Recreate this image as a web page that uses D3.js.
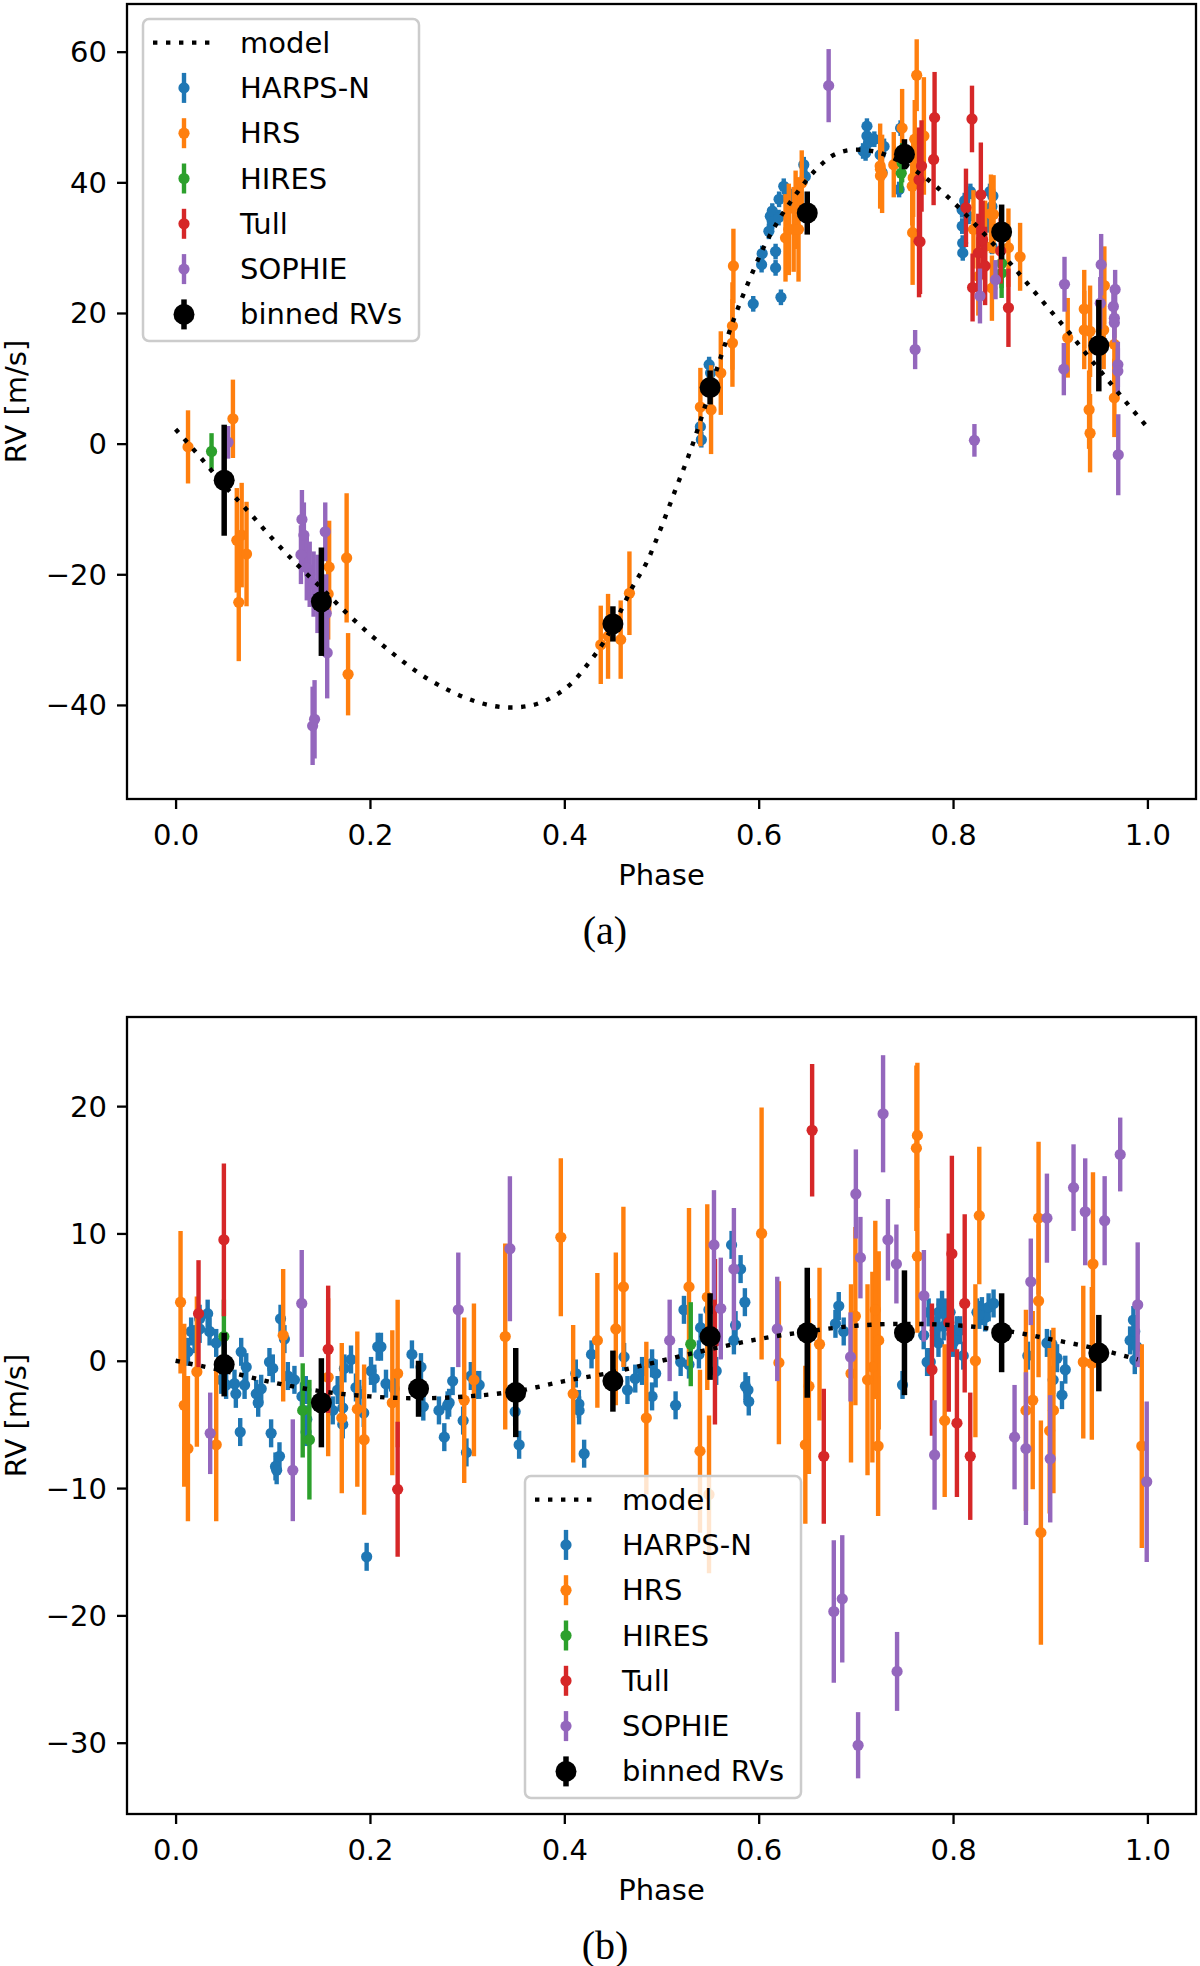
<!DOCTYPE html>
<html>
<head>
<meta charset="utf-8">
<script src="https://cdn.jsdelivr.net/npm/d3@7/dist/d3.min.js"></script>
<style>
  body { margin: 0; background: #fff; }
  svg { display: block; font-family: "DejaVu Sans", sans-serif; }
</style>
</head>
<body>
<svg id="chart" width="1200" height="1966"></svg>
<script>
// ---- data: [phase, RV, error] ----
// panel (a)
const modelA = [[0.0,2.2],[0.025,-2.0],[0.05,-6.4],[0.075,-10.4],[0.1,-14.6],[0.125,-18.5],[0.15,-22.1],[0.175,-25.8],[0.2,-29.2],[0.225,-32.3],[0.25,-35.1],[0.275,-37.3],[0.3,-39.0],[0.325,-40.1],[0.345,-40.4],[0.365,-40.1],[0.39,-38.6],[0.41,-36.3],[0.425,-33.6],[0.44,-30.5],[0.455,-26.5],[0.47,-22.0],[0.485,-18.1],[0.5,-12.7],[0.515,-6.8],[0.53,-1.0],[0.545,5.8],[0.56,12.8],[0.575,19.3],[0.59,24.9],[0.605,30.0],[0.62,34.1],[0.64,38.5],[0.66,42.1],[0.68,44.4],[0.7,45.0],[0.72,44.7],[0.74,43.6],[0.76,41.9],[0.78,39.7],[0.8,37.0],[0.82,34.0],[0.84,30.8],[0.86,27.4],[0.88,23.9],[0.9,20.4],[0.92,16.9],[0.94,13.2],[0.96,9.6],[0.98,6.0],[1.0,2.5]];

const harpsA = [[0.540,2.6,1.2],[0.541,0.6,1.2],[0.549,12.1,1.2],[0.5505,10.8,1.2],[0.546,8.5,1.2],[0.5944,21.4,1.2],[0.603,27.4,1.2],[0.6036,29.1,1.2],[0.6105,32.5,1.2],[0.612,34.8,1.2],[0.614,35.6,1.2],[0.614,34.0,1.2],[0.6174,29.4,1.2],[0.6174,26.9,1.2],[0.6205,34.6,1.2],[0.621,37.4,1.2],[0.6229,22.4,1.2],[0.6258,39.4,1.2],[0.630,38.4,1.2],[0.6345,36.9,1.2],[0.6464,42.7,1.2],[0.648,40.9,1.2],[0.7074,44.8,1.2],[0.710,44.5,1.2],[0.7114,48.6,1.2],[0.7114,47.1,1.2],[0.713,46.1,1.2],[0.719,46.6,1.2],[0.725,44.2,1.2],[0.727,41.5,1.2],[0.729,45.5,1.2],[0.7445,38.9,1.2],[0.746,48.3,1.2],[0.744,43.6,1.2],[0.8093,35.8,1.2],[0.8094,33.3,1.2],[0.8099,30.7,1.2],[0.810,29.2,1.2],[0.816,34.8,1.2],[0.8178,38.6,1.2],[0.838,38.6,1.2],[0.840,36.3,1.2],[0.841,37.9,1.2],[0.840,30.2,1.2],[0.812,37.2,1.2],[0.835,33.5,1.2]];

const hrsA = [[0.0128,-0.5,5.6],[0.059,3.8,6],[0.063,-14.8,8],[0.065,-24.3,9],[0.068,-14,8],[0.073,-16.9,8],[0.157,-23,7],[0.158,-18.9,7.1],[0.176,-17.5,9.9],[0.1775,-35.3,6.3],[0.4375,-30.8,6],[0.445,-29.5,6.5],[0.458,-30,6],[0.467,-22.9,6.4],[0.540,5.6,6],[0.551,5.2,6.8],[0.561,10.8,6.4],[0.573,18,6.7],[0.573,15.4,6.7],[0.574,27.2,5.7],[0.6276,31.5,6.7],[0.631,32.8,7],[0.636,32.8,6.5],[0.641,32.8,8],[0.6443,39.9,5],[0.638,35.8,6],[0.7253,42,5],[0.7253,41,5],[0.725,42.5,6.5],[0.727,41.3,6],[0.739,42.7,5],[0.7476,48.3,6],[0.7584,32.3,8],[0.758,39.4,6],[0.7626,56.4,5.5],[0.7606,46.6,6],[0.759,40.7,6],[0.770,47.1,9],[0.821,32.8,6],[0.826,25.6,6],[0.833,30.2,7],[0.8417,35.1,6],[0.840,23.8,5],[0.839,35.2,6],[0.857,30,6],[0.869,28.6,5.2],[0.918,16.2,6.1],[0.935,20.6,6],[0.935,17.4,6],[0.941,17.2,7],[0.940,5.2,6],[0.941,1.6,6],[0.9557,24.2,6],[0.955,17.4,6],[0.966,15.2,6],[0.966,7,6]];

const hiresA = [[0.037,-1.2,2.8],[0.7467,41.4,3],[0.7476,43,3],[0.850,26.1,3.8],[0.850,27.6,3.8]];

const tullA = [[0.765,31,8.6],[0.765,40.4,8],[0.780,43.5,7],[0.781,49.9,7],[0.7676,42.5,7],[0.766,30.9,8],[0.8195,49.7,5.1],[0.8133,36.1,6],[0.8286,38.1,8],[0.8201,23.9,5.2],[0.8304,31.2,6],[0.826,29.2,6],[0.833,27.2,6],[0.857,20.8,6],[0.849,29.5,5]];

const sophieA = [[0.054,0.2,2.5],[0.130,-11.6,4.5],[0.132,-14,5],[0.129,-17,4.5],[0.135,-19,5],[0.138,-20,5],[0.142,-21.5,5],[0.146,-23,6],[0.154,-13.5,4.5],[0.155,-26,6],[0.156,-32,7],[0.141,-43.2,6],[0.143,-42.2,6],[0.672,54.8,5.6],[0.761,14.4,3],[0.822,0.5,2.5],[0.8277,22.6,4.2],[0.8437,25.1,3],[0.9147,24.4,4.2],[0.914,11.4,4],[0.9524,27.4,4.7],[0.9515,21.5,4],[0.9668,23.6,3],[0.965,21,3],[0.966,19.2,3],[0.966,18.5,3],[0.9696,12.1,3.5],[0.9696,11.1,3.5],[0.97,-1.7,6.2]];

const binnedA = [[0.05,-5.6,8.5],[0.15,-24.2,8.3],[0.45,-27.6,2.7],[0.55,8.6,2.6],[0.65,35.3,3.3],[0.75,44.3,2.3],[0.85,32.4,4.2],[0.95,15,7]];

// panel (b)
const modelB = [[0.0,0.0],[0.05,-0.8],[0.1,-1.7],[0.15,-2.4],[0.2,-2.8],[0.25,-2.95],[0.3,-2.8],[0.35,-2.4],[0.4,-1.6],[0.45,-0.9],[0.5,0.0],[0.55,0.9],[0.6,1.7],[0.65,2.3],[0.7,2.75],[0.75,2.9],[0.8,2.8],[0.85,2.4],[0.9,1.7],[0.95,0.9],[0.99,0.1]];

const harpsB = [[0.0127,0.7],[0.016,2.3],[0.0195,1.7],[0.0247,2.5],[0.0247,3.3],[0.033,3.7],[0.035,2.3],[0.0418,1.4],[0.047,-1.5],[0.052,-1.9],[0.0606,-1.8],[0.062,-2.6],[0.0675,0.7],[0.0727,-0.5],[0.071,-1.9],[0.083,-2.6],[0.0881,-2.2],[0.0966,-0.1],[0.1,-0.6],[0.108,3.3],[0.112,1.7],[0.1155,-1.2],[0.1223,-1.5],[0.130,-2.8],[0.134,-2.3],[0.0665,-5.6],[0.085,-3.3],[0.0983,-5.7],[0.1069,-7.5],[0.1028,-8.3],[0.104,-8.6],[0.1343,-5.6],[0.135,-4.6],[0.1617,-3.9],[0.172,-5.0],[0.1936,-4.1],[0.2549,-3.6],[0.271,-3.9],[0.2799,-3.5],[0.2765,-6.0],[0.2959,-4.7],[0.2993,-7.2],[0.1966,-15.4],[0.1668,-2.3],[0.172,-3.7],[0.1737,-0.6],[0.1805,0.1],[0.1856,-2.1],[0.189,-2.6],[0.2011,-0.8],[0.2045,-1.4],[0.208,1.1],[0.2113,1.1],[0.2165,-1.8],[0.225,-2.2],[0.2432,0.5],[0.2525,-0.5],[0.2851,-1.6],[0.3038,-1.2],[0.309,-1.9],[0.2815,-3.3],[0.3124,-1.9],[0.4118,-1.0],[0.415,-3.4],[0.428,0.5],[0.4615,0.3],[0.465,-2.3],[0.473,-1.4],[0.480,-0.8],[0.4903,-0.2],[0.4903,-2.8],[0.4940,-1.0],[0.5145,-3.5],[0.5197,-0.1],[0.5231,4.0],[0.5283,-0.3],[0.5385,0.5],[0.5402,2.6],[0.5488,4.0],[0.5563,-0.8],[0.5721,9.1],[0.5814,7.2],[0.5858,4.6],[0.5762,2.8],[0.5745,1.6],[0.5864,-2.0],[0.589,-2.3],[0.6824,4.3],[0.679,2.9],[0.6875,2.3],[0.3494,-4.0],[0.3535,-6.6],[0.4152,-3.9],[0.4204,-7.3],[0.5898,-3.2],[0.748,-1.9],[0.7698,2.0],[0.7749,3.8],[0.7766,-0.1],[0.7817,2.4],[0.785,3.8],[0.7887,4.4],[0.792,3.8],[0.797,3.8],[0.7988,2.1],[0.802,1.7],[0.8038,2.4],[0.8072,2.4],[0.8105,0.4],[0.80,1.4],[0.7904,2.7],[0.785,1.4],[0.7733,-0.1],[0.8246,3.8],[0.8297,3.9],[0.8366,4.2],[0.8417,4.5],[0.833,3.4],[0.827,3.6],[0.877,0.4],[0.8966,1.4],[0.9018,1.3],[0.907,0.2],[0.9155,-0.7],[0.903,-1.5],[0.9121,-2.7],[0.9822,1.6],[0.9856,3.2],[0.987,2.3],[0.989,1.1],[0.987,0.05]].map(d => [d[0], d[1], 1.1]);

const hrsB = [[0.0051,4.6,5.6],[0.0089,-3.5,6.4],[0.0127,-6.9,5.7],[0.0219,-0.86,5.9],[0.0418,-6.6,6],[0.1107,2.0,5.2],[0.157,-1.3,6.2],[0.171,-4.5,5.9],[0.187,-3.8,6.1],[0.194,-6.2,5.9],[0.223,-3.3,5.7],[0.2285,-1,5.8],[0.297,-3.1,6.5],[0.307,-1.5,6],[0.3392,1.9,7.3],[0.3964,9.7,6.2],[0.4091,-2.6,5.4],[0.434,1.6,5.3],[0.453,2.5,6],[0.4608,5.8,6.3],[0.4844,-4.5,6],[0.5283,5.8,6.2],[0.5396,-7.1,6.4],[0.5471,5.0,7.3],[0.5489,-10.5,6.2],[0.603,10.0,9.9],[0.6208,-0.15,6.4],[0.6517,-2.0,6.9],[0.648,-6.6,6.2],[0.6626,1.3,6],[0.6995,3.5,7],[0.695,-1,7],[0.712,-1.5,7.5],[0.717,-0.5,7.5],[0.7229,-6.7,5.5],[0.7235,1.6,7],[0.72,4.0,7],[0.7623,16.7,6.5],[0.7633,17.7,5.7],[0.7633,8.2,6],[0.7914,-4.7,6],[0.827,11.4,5.4],[0.823,0,6],[0.875,-3.9,7.9],[0.882,-3.1,7],[0.888,11.2,6],[0.888,4.7,6],[0.8904,-13.5,8.8],[0.8994,-5.5,6.5],[0.9033,-3.9,6.5],[0.934,-0.1,6],[0.9428,-0.2,6],[0.944,7.6,7.2],[0.9942,-6.7,8]];

const hiresB = [[0.0497,1.9,2.9],[0.1308,-3.9,3.7],[0.1377,-6.2,4.7],[0.5301,1.3,3.3]];

const tullB = [[0.0236,3.7,4.2],[0.0497,9.5,6],[0.157,0.9,5],[0.2285,-10.1,5.3],[0.555,1.5,6.5],[0.655,18.1,5.2],[0.667,-7.5,5.3],[0.7783,-0.7,5.2],[0.7988,8.4,7.7],[0.7956,3,7],[0.804,-4.9,5.8],[0.8177,-7.5,5],[0.812,4.5,7]];

const sophieB = [[0.0356,-5.7,3.2],[0.1298,4.5,4.2],[0.1206,-8.6,4],[0.2909,4.0,4.5],[0.344,8.8,5.7],[0.5084,1.6,3.2],[0.554,9.1,4.3],[0.561,4.1,4],[0.5745,7.2,4.8],[0.6191,2.5,4.1],[0.6773,-19.7,5.6],[0.686,-18.7,5],[0.7023,-30.2,2.6],[0.7424,-24.4,3.1],[0.728,19.4,4.6],[0.7,13.1,3.5],[0.7047,8.1,3.2],[0.733,9.5,3.2],[0.7417,7.6,3.1],[0.6945,0.3,3.5],[0.770,5.1,3.6],[0.781,-7.4,4.3],[0.8633,-6.0,4.1],[0.875,-6.9,6],[0.880,6.2,3.4],[0.8966,11.2,3.5],[0.9,-7.7,5],[0.924,13.6,3.4],[0.936,11.7,4.2],[0.956,11,3.5],[0.972,16.2,2.9],[0.990,4.4,4.9],[0.9993,-9.5,6.3]];

const binnedB = [[0.05,-0.3,2.5],[0.15,-3.3,3.5],[0.25,-2.2,2.2],[0.35,-2.5,3.5],[0.45,-1.6,2.4],[0.55,1.9,3.4],[0.65,2.2,5.1],[0.75,2.2,4.9],[0.85,2.2,3.1],[0.95,0.6,3]];

const instruments = ["HARPS-N", "HRS", "HIRES", "Tull", "SOPHIE"];
const colors = ["#1f77b4", "#ff7f0e", "#2ca02c", "#d62728", "#9467bd"];
const xTicks = [0, 0.2, 0.4, 0.6, 0.8, 1.0];
const yTicksA = [-40, -20, 0, 20, 40, 60];
const yTicksB = [-30, -20, -10, 0, 10, 20];

const svg = d3.select("#chart");
const left = 127, right = 1196;

function drawPanel(p) {
  const x = d3.scaleLinear().domain([-0.05, 1.05]).range([left, right]);
  const y = d3.scaleLinear().domain(p.yDomain).range([p.bottom, p.top]);
  const g = svg.append("g");

  // instrument series: bars under markers
  p.series.forEach((data, i) => {
    const s = g.append("g");
    s.selectAll("line").data(data).enter().append("line")
      .attr("x1", d => x(d[0])).attr("x2", d => x(d[0]))
      .attr("y1", d => y(d[1] - d[2])).attr("y2", d => y(d[1] + d[2]))
      .attr("stroke", colors[i]).attr("stroke-width", 4.4);
    s.selectAll("circle").data(data).enter().append("circle")
      .attr("cx", d => x(d[0])).attr("cy", d => y(d[1])).attr("r", 5.6)
      .attr("fill", colors[i]);
  });

  // binned RVs
  const b = g.append("g");
  b.selectAll("line").data(p.binned).enter().append("line")
    .attr("x1", d => x(d[0])).attr("x2", d => x(d[0]))
    .attr("y1", d => y(d[1] - d[2])).attr("y2", d => y(d[1] + d[2]))
    .attr("stroke", "#000").attr("stroke-width", 5.5);
  b.selectAll("circle").data(p.binned).enter().append("circle")
    .attr("cx", d => x(d[0])).attr("cy", d => y(d[1])).attr("r", 10.5)
    .attr("fill", "#000");

  // model
  g.append("path").datum(p.model)
    .attr("d", d3.line().x(d => x(d[0])).y(d => y(d[1])).curve(d3.curveMonotoneX))
    .attr("fill", "none").attr("stroke", "#000").attr("stroke-width", 4.4)
    .attr("stroke-dasharray", "4.4 8.6");

  // frame
  g.append("rect").attr("x", left).attr("y", p.top)
    .attr("width", right - left).attr("height", p.bottom - p.top)
    .attr("fill", "none").attr("stroke", "#000").attr("stroke-width", 2.3);

  // axes
  const ax = g.append("g").attr("transform", `translate(0,${p.bottom})`)
    .call(d3.axisBottom(x).tickValues(xTicks).tickFormat(d3.format(".1f"))
      .tickSize(10).tickSizeOuter(0));
  ax.select(".domain").remove();
  ax.selectAll("line").attr("stroke-width", 2.3);
  ax.selectAll("text").attr("dy", null).attr("y", 36)
    .attr("dominant-baseline", "central").style("font-size", "29px")
    .style("font-family", "DejaVu Sans").attr("fill", "#000");

  const ay = g.append("g").attr("transform", `translate(${left},0)`)
    .call(d3.axisLeft(y).tickValues(p.yTicks).tickFormat(d3.format("d"))
      .tickSize(10).tickSizeOuter(0));
  ay.select(".domain").remove();
  ay.selectAll("line").attr("stroke-width", 2.3);
  ay.selectAll("text").attr("dy", null).attr("x", -20)
    .attr("dominant-baseline", "central").style("font-size", "29px")
    .style("font-family", "DejaVu Sans").attr("fill", "#000");

  g.append("text").attr("x", (left + right) / 2).attr("y", p.bottom + 76)
    .attr("text-anchor", "middle").attr("dominant-baseline", "central")
    .style("font-size", "29px").text("Phase");
  g.append("text")
    .attr("transform", `translate(16,${(p.top + p.bottom) / 2}) rotate(-90)`)
    .attr("text-anchor", "middle").attr("dominant-baseline", "central")
    .style("font-size", "29px").text("RV [m/s]");
  g.append("text").attr("x", 605).attr("y", p.caption)
    .attr("text-anchor", "middle").attr("dominant-baseline", "central")
    .style("font-family", "Liberation Serif, serif").style("font-size", "40px")
    .text(p.label);

  // legend
  const lg = g.append("g").attr("transform", `translate(${p.legend[0]},${p.legend[1]})`);
  lg.append("rect").attr("width", 276).attr("height", 322).attr("rx", 6)
    .attr("fill", "#fff").attr("fill-opacity", 0.8)
    .attr("stroke", "#cccccc").attr("stroke-width", 2.5);
  const rowY = i => 23.6 + i * 45.3;
  lg.append("line").attr("x1", 10).attr("x2", 74).attr("y1", rowY(0)).attr("y2", rowY(0))
    .attr("stroke", "#000").attr("stroke-width", 4.4).attr("stroke-dasharray", "4.4 8.6");
  const entries = ["model"].concat(instruments, ["binned RVs"]);
  entries.forEach((name, i) => {
    if (i > 0) {
      const c = i <= 5 ? colors[i - 1] : "#000";
      lg.append("line").attr("x1", 41).attr("x2", 41)
        .attr("y1", rowY(i) - 15).attr("y2", rowY(i) + 15)
        .attr("stroke", c).attr("stroke-width", i <= 5 ? 4.4 : 5.5);
      lg.append("circle").attr("cx", 41).attr("cy", rowY(i))
        .attr("r", i <= 5 ? 5.6 : 10.5).attr("fill", c);
    }
    lg.append("text").attr("x", 97).attr("y", rowY(i))
      .attr("dominant-baseline", "central").style("font-size", "29px").text(name);
  });
}

drawPanel({
  top: 4, bottom: 799, yDomain: [-54.4, 67.3], yTicks: yTicksA,
  model: modelA, series: [harpsA, hrsA, hiresA, tullA, sophieA], binned: binnedA,
  legend: [143, 19], caption: 930, label: "(a)"
});
drawPanel({
  top: 1017, bottom: 1814, yDomain: [-35.6, 27.0], yTicks: yTicksB,
  model: modelB, series: [harpsB, hrsB, hiresB, tullB, sophieB], binned: binnedB,
  legend: [525, 1476], caption: 1945, label: "(b)"
});
</script>
</body>
</html>
